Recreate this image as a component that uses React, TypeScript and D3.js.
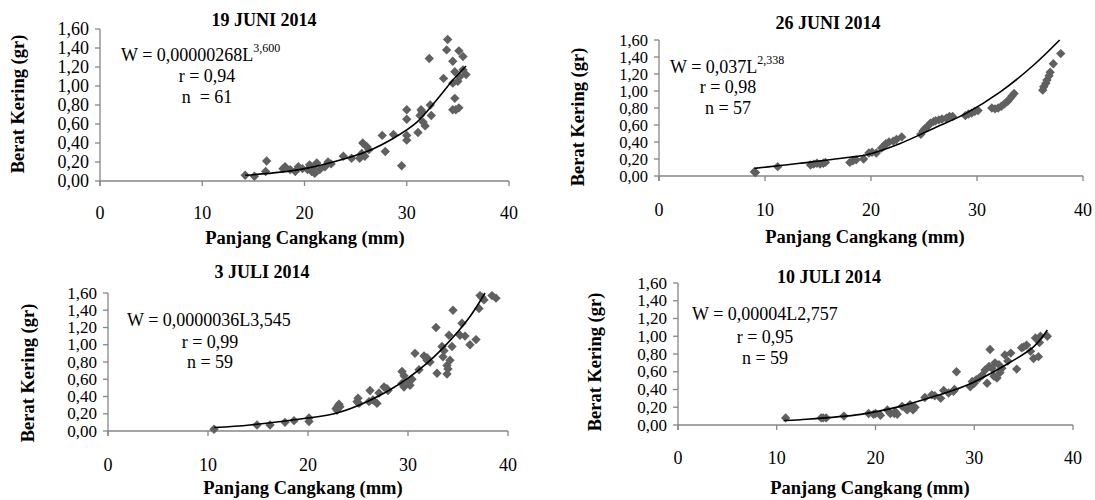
import React from "react";
import * as d3 from "d3";

// tick values shared by all four panels
const xTickValues = [0, 10, 20, 30, 40];
const yTickValues = [0, 0.2, 0.4, 0.6, 0.8, 1.0, 1.2, 1.4, 1.6];

const panelTitles = ["19 JUNI 2014", "26 JUNI 2014", "3 JULI 2014", "10 JULI 2014"];
const equationTexts = ["W = 0,00000268L", "W = 0,037L", "W = 0,0000036L3,545", "W = 0,00004L2,757"];
const equationExponents = ["3,600", "2,338", "", ""];
const rTexts = ["r = 0,94", "r = 0,98", "r = 0,99", "r = 0,95"];
const nTexts = ["n  = 61", "n = 57", "n = 59", "n = 59"];

// [panjang (mm), berat kering (gr)]
const juni19Points = [
  [14.2, 0.06], [15.1, 0.05], [16.3, 0.21], [16.2, 0.1], [18.1, 0.15], [18.6, 0.12], [19.1, 0.1],
  [19.4, 0.15], [20.5, 0.17], [20.7, 0.1], [20.8, 0.14], [21.2, 0.19], [21.0, 0.08], [22.0, 0.15],
  [22.3, 0.2], [21.5, 0.12], [23.8, 0.26], [24.6, 0.24], [25.6, 0.29], [25.9, 0.26], [25.7, 0.4],
  [26.1, 0.36], [25.4, 0.24], [27.6, 0.48], [27.9, 0.31], [28.7, 0.49], [29.5, 0.16], [30.0, 0.75],
  [30.0, 0.65], [30.0, 0.48], [30.0, 0.43], [31.1, 0.51], [31.3, 0.69], [31.4, 0.75], [31.6, 0.62],
  [31.8, 0.58], [32.3, 0.8], [32.4, 0.69], [32.2, 1.29], [33.6, 1.08], [34.0, 1.49], [33.9, 1.38],
  [34.5, 1.26], [35.1, 1.37], [35.5, 1.31], [34.7, 1.15], [35.5, 1.17], [35.8, 1.12], [34.5, 1.03],
  [35.0, 1.05], [34.7, 0.87], [34.5, 0.75], [34.8, 0.75], [35.1, 0.77], [17.9, 0.13], [19.8, 0.13],
  [20.3, 0.12], [22.6, 0.18], [26.3, 0.33], [35.2, 1.1], [31.5, 0.73],
];
const juni26Points = [
  [9.0, 0.05], [9.1, 0.04], [11.2, 0.11], [14.3, 0.13], [14.6, 0.14], [14.9, 0.15], [15.2, 0.14],
  [15.5, 0.15], [15.7, 0.16], [18.0, 0.16], [18.3, 0.18], [18.6, 0.19], [19.3, 0.2], [19.8, 0.27],
  [20.1, 0.28], [20.5, 0.27], [21.2, 0.35], [21.4, 0.38], [21.7, 0.4], [22.1, 0.41], [22.4, 0.43],
  [22.9, 0.46], [24.7, 0.49], [24.9, 0.53], [25.1, 0.56], [25.4, 0.59], [25.6, 0.62], [25.9, 0.64],
  [26.1, 0.65], [26.4, 0.66], [26.7, 0.67], [27.1, 0.68], [27.4, 0.7], [27.7, 0.7], [28.9, 0.71],
  [29.2, 0.73], [29.5, 0.74], [29.8, 0.76], [30.1, 0.77], [31.4, 0.8], [31.7, 0.79], [32.0, 0.8],
  [32.3, 0.82], [32.6, 0.85], [32.9, 0.88], [33.1, 0.91], [33.3, 0.94], [33.5, 0.97], [36.2, 1.01],
  [36.3, 1.05], [36.5, 1.09], [36.6, 1.13], [36.8, 1.18], [36.9, 1.22], [37.2, 1.32], [37.9, 1.44],
  [21.0, 0.33],
];
const juli3Points = [
  [10.6, 0.02], [14.9, 0.07], [16.2, 0.07], [17.7, 0.1], [18.6, 0.12], [20.1, 0.15], [20.1, 0.11],
  [22.8, 0.26], [23.1, 0.31], [23.2, 0.28], [22.9, 0.24], [25.0, 0.38], [25.1, 0.32], [26.1, 0.34],
  [26.2, 0.47], [26.9, 0.32], [27.1, 0.44], [27.6, 0.51], [27.9, 0.49], [29.4, 0.69], [29.4, 0.55],
  [29.6, 0.51], [30.1, 0.57], [30.2, 0.53], [29.6, 0.64], [31.1, 0.71], [30.7, 0.9], [31.6, 0.87],
  [31.9, 0.82], [32.2, 0.8], [32.9, 0.67], [32.8, 1.2], [33.4, 0.98], [33.5, 0.86], [33.9, 0.76],
  [33.9, 0.66], [34.2, 0.82], [34.1, 1.11], [34.4, 0.98], [34.5, 1.4], [35.4, 1.25], [35.2, 1.11],
  [35.7, 1.1], [36.2, 1.0], [36.8, 1.06], [37.1, 1.42], [37.2, 1.57], [37.6, 1.52], [38.4, 1.57],
  [38.8, 1.54], [37.4, 1.55], [34.0, 0.72], [31.9, 0.85], [28.0, 0.47], [26.5, 0.36], [24.9, 0.34],
  [23.0, 0.29], [33.6, 0.93], [30.4, 0.6],
];
const juli10Points = [
  [10.9, 0.08], [14.5, 0.08], [15.0, 0.08], [16.8, 0.1], [14.7, 0.08], [19.3, 0.13], [20.0, 0.13],
  [20.5, 0.11], [21.2, 0.17], [21.5, 0.13], [22.2, 0.12], [22.7, 0.21], [23.2, 0.17], [23.5, 0.23],
  [23.8, 0.17], [25.0, 0.31], [25.7, 0.34], [26.6, 0.3], [26.9, 0.39], [27.4, 0.36], [27.9, 0.38],
  [28.2, 0.6], [29.6, 0.43], [29.8, 0.49], [30.2, 0.51], [30.8, 0.56], [31.1, 0.62], [31.3, 0.47],
  [31.6, 0.85], [31.8, 0.64], [32.0, 0.55], [32.1, 0.7], [32.3, 0.53], [32.6, 0.59], [32.8, 0.64],
  [33.1, 0.79], [33.7, 0.81], [34.3, 0.63], [34.8, 0.87], [35.3, 0.9], [35.7, 0.83], [36.0, 0.75],
  [36.5, 0.77], [36.2, 0.98], [36.7, 1.0], [37.4, 1.0], [24.0, 0.2], [22.0, 0.15], [19.8, 0.12],
  [28.0, 0.4], [30.0, 0.47], [30.5, 0.53], [31.5, 0.66], [32.5, 0.68], [33.4, 0.72], [35.0, 0.88],
  [36.6, 0.93], [26.0, 0.33], [21.9, 0.13],
];

// trend lines
const juni19Trend = [
  [14.2, 0.06], [16.5, 0.08], [19.5, 0.12], [22.8, 0.2], [26.1, 0.31], [28.7, 0.45], [31.0, 0.62],
  [32.9, 0.85], [34.5, 1.06], [35.8, 1.21],
];
const juni26Trend = [
  [9.0, 0.09], [11.2, 0.12], [13.3, 0.15], [18.0, 0.22], [19.6, 0.25], [22.7, 0.38], [25.9, 0.56],
  [29.0, 0.74], [32.2, 0.99], [35.3, 1.3], [37.8, 1.6],
];
const juli3Trend = [
  [10.6, 0.04], [14.2, 0.07], [19.2, 0.14], [22.6, 0.2], [25.9, 0.34], [29.2, 0.55], [32.6, 0.86],
  [35.9, 1.28], [37.7, 1.6],
];
const juli10Trend = [
  [10.7, 0.05], [12.4, 0.06], [18.5, 0.12], [22.5, 0.21], [25.9, 0.32], [29.3, 0.45], [32.6, 0.64],
  [36.0, 0.88], [37.4, 1.07],
];

const allPoints = [juni19Points, juni26Points, juli3Points, juli10Points];
const allTrends = [juni19Trend, juni26Trend, juli3Trend, juli10Trend];

// pixel placement of each panel
const layouts = [
  { x0: 100, x1: 509, y0: 181, y1: 29, tickFont: 18, titleX: 264, titleY: 20, yTitleX: 18, yTitleY: 104, eqX: 121, eqY: 55, rnX: 207, rY: 76, nY: 97, tickY: 213, xTitleX: 305, xTitleY: 238 },
  { x0: 659, x1: 1083, y0: 176, y1: 40, tickFont: 16.5, titleX: 828, titleY: 23, yTitleX: 578, yTitleY: 117, eqX: 670, eqY: 67, rnX: 728, rY: 87, nY: 108, tickY: 210, xTitleX: 865, xTitleY: 237 },
  { x0: 108, x1: 508, y0: 431, y1: 293, tickFont: 17, titleX: 262, titleY: 272, yTitleX: 28, yTitleY: 373, eqX: 127, eqY: 320, rnX: 210, rY: 342, nY: 362, tickY: 465, xTitleX: 303, xTitleY: 488 },
  { x0: 678, x1: 1073, y0: 425, y1: 283, tickFont: 17, titleX: 829, titleY: 277, yTitleX: 595, yTitleY: 362, eqX: 692, eqY: 314, rnX: 765, rY: 337, nY: 358, tickY: 458, xTitleX: 870, xTitleY: 488 },
];

const FONT = "'Liberation Serif', 'Times New Roman', serif";
const AXIS = "#868686";
const MARK = "#606060";

const fmtY = (v: number) => d3.format(".2f")(v).replace(".", ",");
const diamond = d3.symbol(d3.symbolSquare, 44)();

function Panel({ i }: { i: number }) {
  const L = layouts[i];
  const x = d3.scaleLinear().domain([0, 40]).range([L.x0, L.x1]);
  const y = d3.scaleLinear().domain([0, 1.6]).range([L.y0, L.y1]);
  const line = d3
    .line<number[]>()
    .x((d) => x(d[0]))
    .y((d) => y(d[1]))
    .curve(d3.curveCatmullRom.alpha(0.5));

  return (
    <g fontFamily={FONT} fill="#000">
      {/* axes */}
      <line x1={x(0)} x2={x(40)} y1={y(0)} y2={y(0)} stroke={AXIS} strokeWidth={1.3} />
      <line x1={x(0)} x2={x(0)} y1={y(0) + 5} y2={y(1.6)} stroke={AXIS} strokeWidth={1.3} />
      {xTickValues.map((t) => (
        <g key={"x" + t}>
          <line x1={x(t)} x2={x(t)} y1={y(0)} y2={y(0) + 5} stroke={AXIS} strokeWidth={1.3} />
          <text x={x(t)} y={L.tickY} fontSize={18} textAnchor="middle" dominantBaseline="central">
            {t}
          </text>
        </g>
      ))}
      {yTickValues.map((t) => (
        <g key={"y" + t}>
          <line x1={x(0) - 5} x2={x(0)} y1={y(t)} y2={y(t)} stroke={AXIS} strokeWidth={1.3} />
          <text x={x(0) - 11} y={y(t)} fontSize={L.tickFont} textAnchor="end" dominantBaseline="central">
            {fmtY(t)}
          </text>
        </g>
      ))}

      {/* scatter + trend */}
      {allPoints[i].map((d, k) => (
        <path key={k} d={diamond!} fill={MARK} transform={`translate(${x(d[0])},${y(d[1])}) rotate(45)`} />
      ))}
      <path d={line(allTrends[i])!} fill="none" stroke="#000" strokeWidth={1.6} />

      {/* titles */}
      <text x={L.titleX} y={L.titleY} fontSize={18} fontWeight="bold" textAnchor="middle" dominantBaseline="central">
        {panelTitles[i]}
      </text>
      <text x={L.xTitleX} y={L.xTitleY} fontSize={18.5} fontWeight="bold" textAnchor="middle" dominantBaseline="central">
        Panjang Cangkang (mm)
      </text>
      <text
        transform={`translate(${L.yTitleX},${L.yTitleY}) rotate(-90)`}
        fontSize={18.5}
        fontWeight="bold"
        textAnchor="middle"
        dominantBaseline="central"
      >
        Berat Kering (gr)
      </text>

      {/* equation */}
      <text x={L.eqX} y={L.eqY} fontSize={18} dominantBaseline="central">
        {equationTexts[i]}
        {equationExponents[i] && (
          <tspan fontSize={12} dy={-7}>
            {equationExponents[i]}
          </tspan>
        )}
      </text>
      <text x={L.rnX} y={L.rY} fontSize={18} textAnchor="middle" dominantBaseline="central">
        {rTexts[i]}
      </text>
      <text x={L.rnX} y={L.nY} fontSize={18} textAnchor="middle" dominantBaseline="central" style={{ whiteSpace: "pre" }}>
        {nTexts[i]}
      </text>
    </g>
  );
}

export default function App() {
  return (
    <div style={{ position: "absolute", left: 0, top: 0, background: "#fff" }}>
      <svg width={1095} height={500} style={{ display: "block" }}>
        <rect width={1095} height={500} fill="#fff" />
        {layouts.map((_, i) => (
          <Panel key={i} i={i} />
        ))}
      </svg>
    </div>
  );
}
